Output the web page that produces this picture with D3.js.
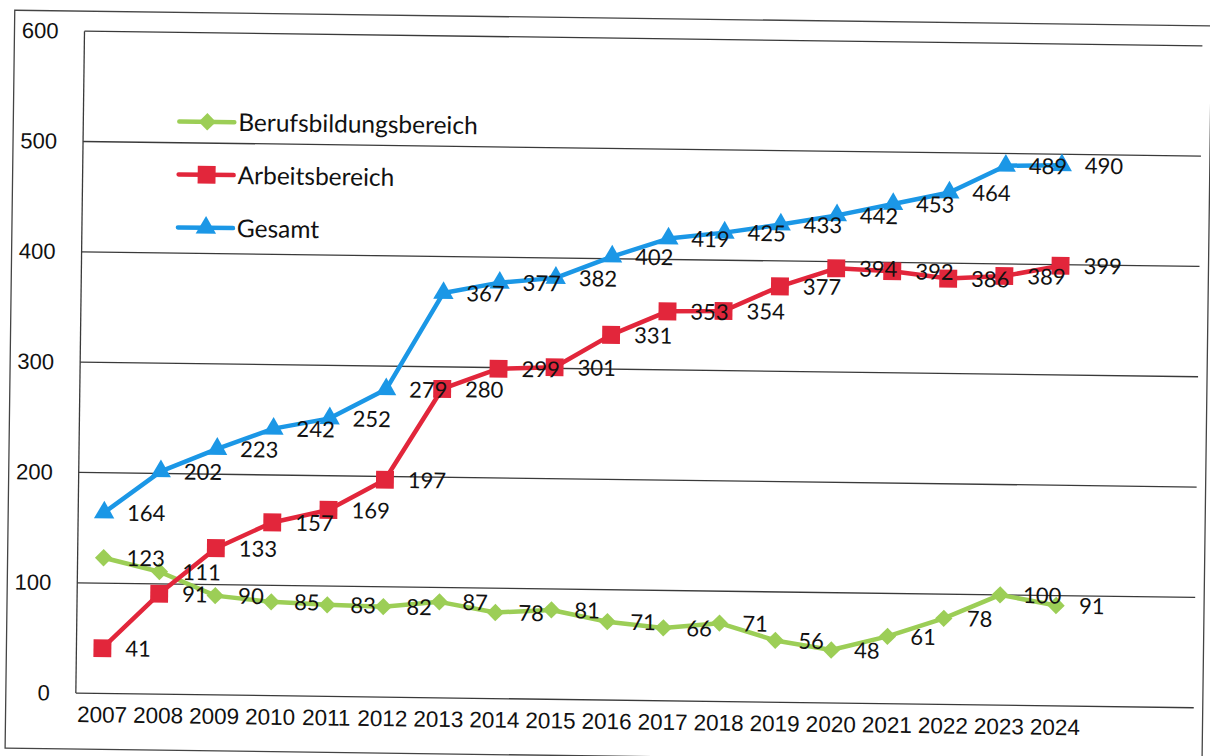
<!DOCTYPE html>
<html>
<head>
<meta charset="utf-8">
<title>Berufsbildungsbereich / Arbeitsbereich / Gesamt</title>
<script src="https://cdn.jsdelivr.net/npm/d3@7"></script>
<style>
    html, body {
        margin:0;
        padding:0;
        background:white;
    }
    svg {
        display:block;
        font-family:'Lato', 'Open Sans', sans-serif;
    }
    .gridline {
        stroke:#3a3a3a;
        stroke-width:1.3;
    }
    .lbl {
        font-size:22px;
        fill:#111;
    }
</style>
</head>
<body>
<svg id="chart" width="1210" height="756"></svg>
<script>
// data
const years = ["2007","2008","2009","2010","2011","2012","2013","2014","2015",
               "2016","2017","2018","2019","2020","2021","2022","2023","2024"];
const berufsbildung = [123,111,90,85,83,82,87,78,81,71,66,71,56,48,61,78,100,91];
const arbeitsbereich = [41,91,133,157,169,197,280,299,301,331,353,354,377,394,392,386,389,399];
const gesamt = [164,202,223,242,252,279,367,377,382,402,419,425,433,442,453,464,489,490];
const yTicks = [0,100,200,300,400,500,600];

const series = [
    {name:"Berufsbildungsbereich", values:berufsbildung, color:"#9cce56", shape:"diamond"},
    {name:"Arbeitsbereich", values:arbeitsbereich, color:"#e2263b", shape:"square"},
    {name:"Gesamt", values:gesamt, color:"#1b97e6", shape:"triangle"}
];

// layout (before the slight scan tilt)
const plot = {left:80, right:1198, top:38, bottom:700};

const svg = d3.select("#chart");
svg.append("rect").attr("width",1210).attr("height",756).attr("fill","white");

// the scan is tilted a little, so tilt the whole drawing
const g = svg.append("g").attr("transform","rotate(0.75,605,378)");

const x = d3.scalePoint().domain(years).range([106, 1059]);
const y = d3.scaleLinear().domain([0,600]).range([plot.bottom, plot.top]);

// outer frame
g.append("rect")
    .attr("x",10).attr("y",18).attr("width",1197).attr("height",738)
    .attr("fill","none").attr("stroke","#444").attr("stroke-width",1.3);

// gridlines
g.selectAll(".gridline").data(yTicks).enter().append("line")
    .attr("class","gridline")
    .attr("x1",plot.left).attr("x2",plot.right)
    .attr("y1",d => y(d)).attr("y2",d => y(d));

// left axis line
g.append("line")
    .attr("x1",plot.left).attr("x2",plot.left)
    .attr("y1",plot.top).attr("y2",plot.bottom)
    .attr("stroke","#3a3a3a").attr("stroke-width",1.3);

// y tick labels
const yAxis = d3.axisLeft(y).tickValues(yTicks).tickSize(0).tickPadding(0);
const ya = g.append("g").attr("transform","translate(54,0)").call(yAxis);
ya.select(".domain").remove();
ya.selectAll("text").attr("class","lbl").attr("font-size",null).attr("font-family",null)
    .style("font-size","22px");

// x tick labels
const xAxis = d3.axisBottom(x).tickSize(0).tickPadding(0);
const xa = g.append("g").attr("transform","translate(0,713)").call(xAxis);
xa.select(".domain").remove();
xa.selectAll("text").attr("class","lbl").attr("font-size",null).attr("font-family",null)
    .style("font-size","22.5px");

function symbolFor(shape) {
    if(shape == "square") return d3.symbol().type(d3.symbolSquare).size(320);
    if(shape == "triangle") return d3.symbol().type(d3.symbolTriangle).size(180);
    return d3.symbol().type(d3.symbolSquare).size(150);
}
function markerTransform(shape, px, py) {
    if(shape == "diamond") return `translate(${px},${py}) rotate(45)`;
    return `translate(${px},${py})`;
}

let line = d3.line()
    .x((d,i) => x(years[i]))
    .y(d => y(d));

series.forEach(s => {
    g.append("path")
        .datum(s.values)
        .attr("d",line)
        .attr("fill","none")
        .attr("stroke",s.color)
        .attr("stroke-width",4.5)
        .attr("stroke-linejoin","round");

    g.selectAll(".m-"+s.shape).data(s.values).enter().append("path")
        .attr("class","m-"+s.shape)
        .attr("d",symbolFor(s.shape)())
        .attr("transform",(d,i) => markerTransform(s.shape, x(years[i]), y(d)))
        .attr("fill",s.color);
});

// data labels on top of everything
series.forEach(s => {
    g.selectAll(".v-"+s.shape).data(s.values).enter().append("text")
        .attr("class","lbl v-"+s.shape)
        .attr("x",(d,i) => x(years[i]) + 23)
        .attr("y",d => y(d))
        .attr("dy","0.36em")
        .text(d => d);
});

// legend
const legend = g.append("g");
series.forEach((s,i) => {
    let ly = 127 + i*53;
    legend.append("line")
        .attr("x1",176).attr("x2",231).attr("y1",ly).attr("y2",ly)
        .attr("stroke",s.color).attr("stroke-width",4.5).attr("stroke-linecap","round");
    legend.append("path")
        .attr("d",symbolFor(s.shape)())
        .attr("transform",markerTransform(s.shape,204,ly))
        .attr("fill",s.color);
    legend.append("text")
        .attr("class","lbl")
        .attr("x",235).attr("y",ly).attr("dy","0.36em")
        .style("font-size","24.5px")
        .text(s.name);
});
</script>
</body>
</html>
